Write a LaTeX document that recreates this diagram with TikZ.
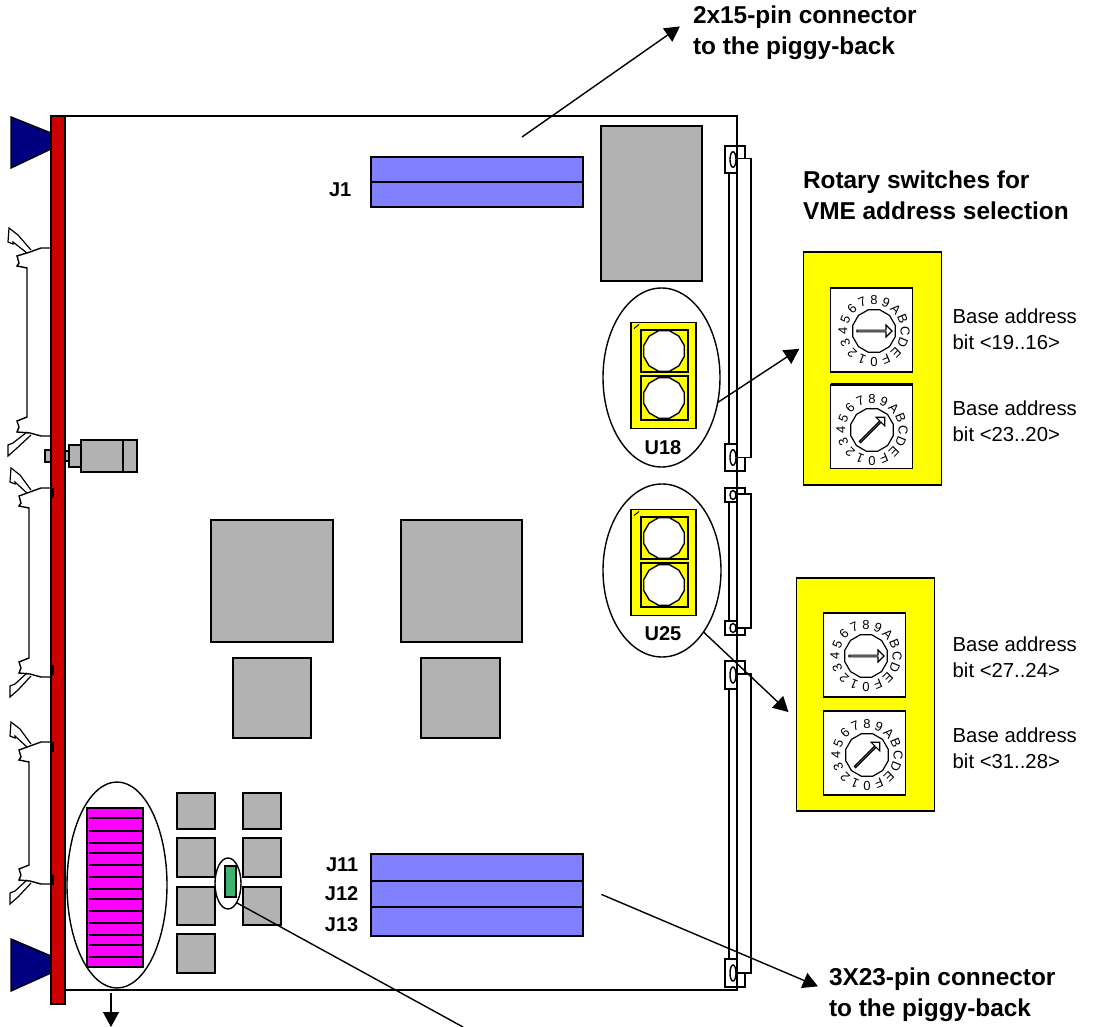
\documentclass[tikz,border=0pt]{standalone}
\usepackage{fontspec}
\setmainfont{Liberation Sans}
\usepackage{xcolor}
\usetikzlibrary{arrows.meta,positioning,calc,shapes.geometric,shapes.misc,shapes.arrows}
\definecolor{pcbRed}{HTML}{CC0000}
\definecolor{pcbNavy}{HTML}{000080}
\definecolor{pcbGray}{HTML}{B2B2B2}
\definecolor{pcbSlot}{HTML}{8080FF}
\definecolor{pcbYellow}{HTML}{FFFF00}
\definecolor{pcbPink}{HTML}{FF00FF}
\definecolor{pcbGreen}{HTML}{3CB371}
\begin{document}
\begin{tikzpicture}[x=1pt,y=-1pt,line width=1.4pt,
  chip/.style={draw,fill=pcbGray,inner sep=0pt,outer sep=0pt},
  slot/.style={draw,fill=pcbSlot,inner sep=0pt,outer sep=0pt,minimum width=212pt},
  oval/.style={draw,fill=white,ellipse,inner sep=0pt,outer sep=0pt},
  sock/.style={draw,fill=pcbYellow,inner sep=0pt,outer sep=0pt},
  knob/.style={draw,fill=white,regular polygon,regular polygon sides=12,inner sep=0pt,outer sep=0pt},
  panel/.style={draw,fill=pcbYellow,chamfered rectangle,chamfered rectangle corners=north west,chamfered rectangle xsep=15pt,chamfered rectangle ysep=12pt,inner sep=0pt,outer sep=0pt,minimum width=138pt,minimum height=233pt},
  dial/.style={draw,fill=white,inner sep=0pt,outer sep=0pt,minimum width=82pt,minimum height=84pt},
  digit/.style={font=\fontsize{13}{13}\selectfont,inner sep=0pt},
  needle/.style={draw,fill=white,single arrow,single arrow head extend=3.5pt,inner sep=0pt,minimum width=12pt,minimum height=35pt,line width=1.2pt},
  ptr/.style={-{Triangle[length=15pt,width=16pt]},line width=1.4pt},
  head/.style={font=\bfseries\fontsize{24.4}{31}\selectfont,align=left,anchor=west,inner sep=0pt,outer sep=0pt},
  tag/.style={font=\bfseries\fontsize{20}{24}\selectfont,inner sep=0pt},
  note/.style={font=\fontsize{20.3}{26}\selectfont,align=left,anchor=west,inner sep=0pt}]
  \useasboundingbox (0,0) rectangle (1093,1027);
  \draw (65,116) rectangle (737,990);
  \foreach \n/\x/\y/\w/\h in {mem/651.5/203.5/101/155,fpgaa/272/581/122/122,fpgab/461.5/581/121/122,bufa/272/698/78/80,bufb/460.5/698/79/80,
    sa/196/811/38/36,sb/196/857.5/38/39,sc/196/906/38/38,sd/196/953.5/38/39,se/262/811/38/36,sf/262/857.5/38/39,sg/262/906/38/38}
    \node[chip,minimum width=\w pt,minimum height=\h pt] (\n) at (\x,\y) {};
  \foreach \n/\y/\h in {ja/169.5/25,jb/194.5/25,jk/867.5/27,jl/894/26,jm/921.5/29}
    \node[slot,minimum height=\h pt] (\n) at (477,\y) {};
  \node[tag,anchor=east] (tja) at (352,190) {J1};
  \node[tag,anchor=east] (tjk) at (359,865) {J11};
  \node[tag,anchor=east] (tjl) at (359,894) {J12};
  \node[tag,anchor=east] (tjm) at (359,925) {J13};
  \node[oval,minimum width=100pt,minimum height=206pt] (magell) at (117,885) {};
  \node[draw,fill=pcbPink,inner sep=0pt,minimum width=56pt,minimum height=159pt] (mag) at (115,887.5) {};
  \foreach \y in {818,831,843,853,865,877,889,899,911,923,935,945,957}
    \draw (89,\y) -- (mag.east|-0,\y);
  \node[oval,minimum width=26pt,minimum height=51pt] (ledell) at (228,883.5) {};
  \node[draw,fill=pcbGreen,inner sep=0pt,minimum width=11pt,minimum height=31pt] (led) at (230.5,881.5) {};
  \foreach \n/\ex/\ey/\ew/\eh/\y in {ua/661.5/377.5/117/179/375.5,ub/662/570.5/118/173/562.5}{
    \node[oval,minimum width=\ew pt,minimum height=\eh pt] (\n ell) at (\ex,\ey) {};
    \node[sock,minimum width=65pt,minimum height=106pt] (\n) at (663.5,\y) {};
    \node[sock,minimum width=47pt,minimum height=42pt] (\n a) at (664.5,\y-24.5) {};
    \node[sock,minimum width=47pt,minimum height=44pt] (\n b) at (664.5,\y+22.5) {};
    \node[knob,minimum size=42pt] (\n ka) at (664,\y-24.5) {};
    \node[knob,minimum size=42pt] (\n kb) at (664,\y+22.5) {};
    \draw[line width=1pt] (634,\y-47) -- (639,\y-51);
  }
  \node[tag] (tua) at (663,448) {U18};
  \node[tag] (tub) at (663,634) {U25};
  \foreach \t/\b/\h in {146/471/27,488/635/14,661/987/28}{
    \draw (729,\t+\h) rectangle (737,\b-\h);
    \draw (737,\t+\h/2-1) rectangle (751,\b-\h/2);
    \draw[fill=white] (725,\t) rectangle (737,\t+\h);
    \draw (737,\t) -- (745,\t) -- (745,\t+\h/2-1);
    \draw[fill=white] (725,\b-\h) rectangle (737,\b);
    \draw (737,\b) -- (745,\b) -- (745,\b-\h/2);
    \draw (733,\t+\h/2) ellipse (3pt and \h/4+1pt);
    \draw (733,\b-\h/2) ellipse (3pt and \h/4+1pt);
  }
  \draw (737,116) -- (737,990);
  \foreach \d/\t/\b in {0/248/436,2/488/677,2/742/884}{
    \draw (51,\t) -- (41,\t) -- (30,\t+4) -- (17+\d,\t+8) -- (19+\d,\t+15) -- (17+\d,\t+18) -- (27+\d,\t+20) -- (27+\d,\b-19)
      -- (17+\d,\b-15) -- (19+\d,\b-9) -- (17+\d,\b-4) -- (30,\b-3) -- (41,\b) -- (51,\b);
    \draw[line width=1.2pt] (27,\t+5) -- (13+\d,\t-6) -- (13+\d,\t-4) -- (8+\d,\t-6) -- (9+\d,\t-20) -- (18+\d,\t-13) -- (31,\t+2);
    \draw[line width=1.2pt] (27,\b-4) -- (13+\d,\b+7) -- (8+\d,\b+9) -- (8+\d,\b+20) -- (16+\d,\b+13) -- (31,\b-1);
  }
  \foreach \n/\x/\w/\h in {lema/48/6/12,lemb/67/4/10,lemc/75/12/22,lemd/102/42/32,leme/130/14/32}
    \node[chip,minimum width=\w pt,minimum height=\h pt] (\n) at (\x,456) {};
  \draw[fill=pcbNavy] (11,117) -- (51,133) -- (51,149) -- (11,168) -- cycle;
  \draw[fill=pcbNavy] (11,939) -- (51,956) -- (51,973) -- (11,991) -- cycle;
  \node[draw,fill=pcbRed,inner sep=0pt,outer sep=0pt,minimum width=14pt,minimum height=888pt] (bar) at (58,560) {};
  \foreach \y in {488,665,742,875}
    \fill (51,\y) rectangle (54,\y+10);
  \node[panel] (pna) at (872.5,368.5) {};
  \node[panel] (pnb) at (865.5,694.5) {};
  \foreach \n/\x/\y/\cx/\cy/\r in {swa/871.5/330/874/331/0,swb/871.5/426.5/872/430/45,swc/864.5/655/866/656/0,swd/864.5/753/867/755/45}{
    \node[dial] (\n) at (\x,\y) {};
    \draw[line width=2.4pt] (\n.north west) -- (\n.north east);
    \node[knob,minimum size=44pt,line width=1.2pt] (\n k) at (\cx,\cy) {};
    \node[needle,rotate=\r] (\n p) at (\cx,\cy) {};
    \foreach \c [count=\i from 0] in {0,1,2,3,4,5,6,7,8,9,A,B,C,D,E,F}{
      \pgfmathsetmacro{\a}{-90-22.5*\i}
      \node[digit,rotate=\a-90] (\n d\i) at ($(\cx,\cy)+(\a:31pt)$) {\c};
    }
  }
  \node[head] (tpa) at (693,33) {2x15-pin connector\\to the piggy-back};
  \node[head] (tpb) at (829,995) {3X23-pin connector\\to the piggy-back};
  \node[head] (tsw) at (803,195) {Rotary switches for\\VME address selection};
  \node[note] (na) at (952,329) {Base address\\bit <19..16>};
  \node[note] (nb) at (952,421) {Base address\\bit <23..20>};
  \node[note] (nc) at (952,657) {Base address\\bit <27..24>};
  \node[note] (nd) at (952,748) {Base address\\bit <31..28>};
  \coordinate (jout) at (522,137);
  \coordinate (magout) at (111,1027);
  \coordinate (ledout) at (463,1027);
  \draw[ptr,shorten >=16pt] (jout) -- (tpa.172);
  \draw[ptr,shorten <=20pt,shorten >=12pt] (jl.4) -- (tpb.178);
  \draw[ptr,shorten >=5pt] (uaell.-24) -- (pna.162);
  \draw[ptr,shorten >=11pt] (ubell.-56) -- (pnb.200);
  \draw[ptr,shorten <=5pt] (magout|-magell.south) -- (magout);
  \draw (ledell.-66) -- (ledout);
\end{tikzpicture}
\end{document}
